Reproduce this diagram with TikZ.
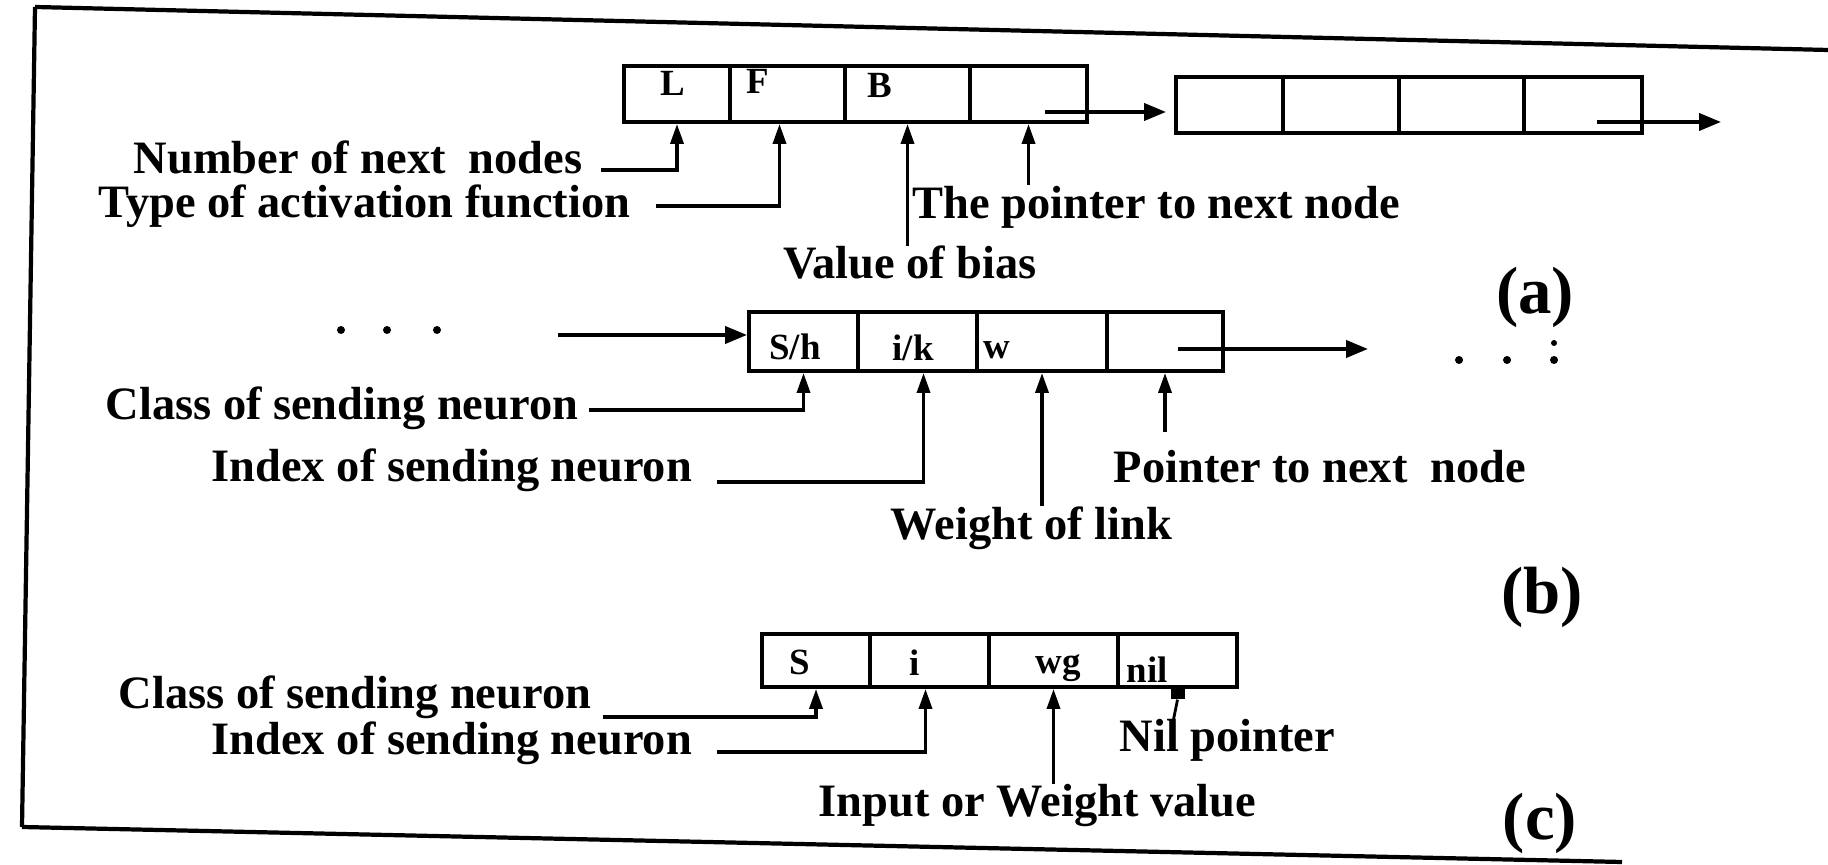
\documentclass[tikz,border=0pt]{standalone}
\usepackage{fontspec}
\setmainfont{Liberation Serif}
\usetikzlibrary{arrows.meta,calc}
\begin{document}
\begin{tikzpicture}[x=0.01cm,y=-0.01cm,
  frame/.style={line width=1.2pt},
  cell/.style={draw,line width=1.1pt,inner sep=0pt,rectangle},
  lbl/.style={font=\fontsize{13.2}{15}\selectfont\bfseries,inner sep=0pt,anchor=west},
  clbl/.style={font=\fontsize{10.5}{12}\selectfont\bfseries,inner sep=0pt},
  tag/.style={font=\fontsize{19}{22}\selectfont\bfseries,inner sep=0pt},
  arr/.style={line width=1pt,-{Triangle[length=0.2cm,width=0.13cm]}},
  link/.style={line width=1.1pt,-{Triangle[length=0.22cm,width=0.17cm]}},
  dot/.style={circle,fill,inner sep=0pt,minimum size=0.08cm},
]
\useasboundingbox (0,0) rectangle (1828,865);

% frame
\draw[frame] (35,7) -- (1828,50);
\draw[frame] (35,7) -- (22,827);
\draw[frame] (22,827) -- (1622,862);

% ---------- (a) ----------
\node[cell,minimum width=1.06cm,minimum height=0.56cm] (a1c1) at (677,94) {};
\node[cell,minimum width=1.15cm,minimum height=0.56cm] (a1c2) at (787.5,94) {};
\node[cell,minimum width=1.25cm,minimum height=0.56cm] (a1c3) at (907.5,94) {};
\node[cell,minimum width=1.17cm,minimum height=0.56cm] (a1c4) at (1028.5,94) {};
\node[cell,minimum width=1.07cm,minimum height=0.56cm] (a2c1) at (1229.5,105) {};
\node[cell,minimum width=1.16cm,minimum height=0.56cm] (a2c2) at (1341,105) {};
\node[cell,minimum width=1.25cm,minimum height=0.56cm] (a2c3) at (1461.5,105) {};
\node[cell,minimum width=1.18cm,minimum height=0.56cm] (a2c4) at (1583,105) {};
\node[clbl] (tL) at (673,83) {L};
\node[clbl] (tF) at (758,81) {F};
\node[clbl] (tB) at (880,85) {B};

\coordinate (p1) at (1045,112);
\draw[link,shorten >=0.08cm] (p1) -- (p1 -| a2c1.west);
\coordinate (p2) at (1597,122);
\coordinate (e2) at (1721,122);
\draw[link] (p2) -- (e2);

\node[lbl] (n1) at (133,157) {Number of next~~nodes};
\node[lbl] (n2) at (98,206) {Type of activation function};
\node[lbl,anchor=center] (n3) at (910,263) {Value of bias};
\node[lbl] (n4) at (912,207) {The pointer to next node};
\draw[arr] ($(n1.east)+(18,13)$) -| (a1c1.south);
\draw[arr] ($(n2.east)+(25,0)$) -| ($(a1c2.south)+(-8,0)$);
\draw[arr] (n3.north -| a1c3.south) -- (a1c3.south);
\draw[arr] (n4.north -| a1c4.south) -- (a1c4.south);
\node[tag] (ta) at (1535,297) {(a)};

% ---------- (b) ----------
\node[dot] (d1) at (341,330) {};
\node[dot] (d2) at (387,330) {};
\node[dot] (d3) at (437,330) {};
\node[cell,minimum width=1.09cm,minimum height=0.59cm] (b1c1) at (803.5,341.5) {};
\node[cell,minimum width=1.19cm,minimum height=0.59cm] (b1c2) at (917.5,341.5) {};
\node[cell,minimum width=1.30cm,minimum height=0.59cm] (b1c3) at (1042,341.5) {};
\node[cell,minimum width=1.16cm,minimum height=0.59cm] (b1c4) at (1165,341.5) {};
\node[clbl] (tSh) at (795,347) {S/h};
\node[clbl] (tik) at (913,348) {i/k};
\node[clbl] (tw) at (997,350) {w};
\coordinate (p3) at (558,335);
\draw[link] (p3) -- (p3 -| b1c1.west);
\coordinate (p4) at (1178,349);
\coordinate (e4) at (1368,349);
\draw[link] (p4) -- (e4);
\node[dot] (d4) at (1459,360) {};
\node[dot] (d5) at (1507,360) {};
\node[dot] (d6) at (1554,360) {};
\node[dot,minimum size=0.06cm] (d7) at (1554,343) {};

\node[lbl] (n5) at (105,408) {Class of sending neuron};
\node[lbl] (n6) at (211,470) {Index of sending neuron};
\node[lbl] (n7) at (890,528) {Weight of link};
\node[lbl] (n8) at (1113,467) {Pointer to next~~node};
\draw[arr] ($(n5.east)+(10,2)$) -| (b1c1.south);
\draw[arr] ($(n6.east)+(24,12)$) -| ($(b1c2.south)+(6,0)$);
\draw[arr] (n7.north -| b1c3.south) -- (b1c3.south);
\draw[arr] ($(n8.north -| b1c4.south)+(0,-18)$) -- (b1c4.south);
\node[tag] (tb) at (1542,597) {(b)};

% ---------- (c) ----------
\node[cell,minimum width=1.08cm,minimum height=0.53cm] (c1c1) at (816,660.5) {};
\node[cell,minimum width=1.19cm,minimum height=0.53cm] (c1c2) at (929.5,660.5) {};
\node[cell,minimum width=1.29cm,minimum height=0.53cm] (c1c3) at (1053.5,660.5) {};
\node[cell,minimum width=1.19cm,minimum height=0.53cm] (c1c4) at (1177.5,660.5) {};
\node[clbl] (tS) at (800,662) {S};
\node[clbl] (ti) at (915,663) {i};
\node[clbl] (twg) at (1058,668) {wg};
\node[clbl] (tnil) at (1147,670) {nil};
\node[fill,inner sep=0pt,minimum width=0.14cm,minimum height=0.12cm] (nilsq) at ($(c1c4.south)+(0,4)$) {};
\coordinate (tick) at (1173,722);
\draw[line width=0.8pt] (nilsq.south) -- (tick);

\node[lbl] (n9) at (118,697) {Class of sending neuron};
\node[lbl] (n10) at (211,743) {Index of sending neuron};
\node[lbl] (n11) at (818,806) {Input or Weight value};
\node[lbl] (n12) at (1119,740) {Nil pointer};
\draw[arr] ($(n9.east)+(11,20)$) -| (c1c1.south);
\draw[arr] ($(n10.east)+(24,9)$) -| ($(c1c2.south)+(-4,0)$);
\draw[arr] (n11.north -| c1c3.south) -- (c1c3.south);
\node[tag] (tc) at (1540,823) {(c)};
\end{tikzpicture}
\end{document}
